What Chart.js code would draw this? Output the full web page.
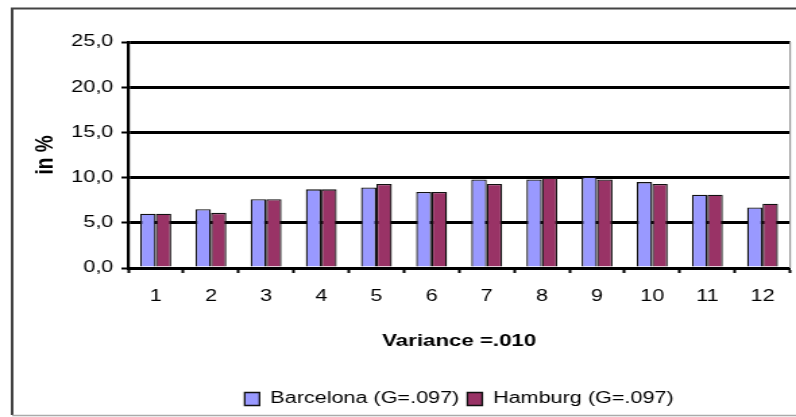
<!DOCTYPE html>
<html>
<head>
<meta charset="utf-8">
<script src="https://cdn.jsdelivr.net/npm/chart.js@4/dist/chart.umd.min.js"></script>
<style>
  html, body { margin: 0; padding: 0; background: #fff; overflow: hidden; }
  /* the chart is laid out narrow and widened, giving its broad lettering */
  #c { display: block; transform: scaleX(1.3492); transform-origin: 0 0; }
</style>
</head>
<body>
<canvas id="c" width="590" height="417"></canvas>
<script>
const categories = ['1', '2', '3', '4', '5', '6', '7', '8', '9', '10', '11', '12'];
const barcelona = [6.0, 6.5, 7.6, 8.7, 8.9, 8.4, 9.8, 9.8, 10.1, 9.5, 8.1, 6.7];
const hamburg   = [6.0, 6.1, 7.6, 8.7, 9.3, 8.4, 9.3, 10.0, 9.8, 9.3, 8.1, 7.1];
const seriesNames = ['Barcelona (G=.097)', 'Hamburg (G=.097)'];
const xTitle = 'Variance =.010';
const yTitle = 'in %';

const FONT = '"Liberation Sans", Arial, sans-serif';

// outer frame and the grey edge on the right of the plot area
const framePlugin = {
  id: 'frame',
  beforeDraw(chart) {
    const ctx = chart.ctx;
    ctx.save();
    ctx.fillStyle = '#fff';
    ctx.fillRect(0, 0, chart.width, chart.height);
    ctx.strokeStyle = '#444';
    ctx.lineWidth = 2;
    ctx.beginPath();
    ctx.moveTo(9, 415);
    ctx.lineTo(9, 8.5);
    ctx.lineTo(chart.width + 2, 8.5);
    ctx.stroke();
    ctx.strokeStyle = '#aaa';
    ctx.lineWidth = 1.5;
    ctx.beginPath();
    ctx.moveTo(9, 415.5);
    ctx.lineTo(chart.width + 2, 415.5);
    ctx.stroke();
    ctx.restore();
  },
  afterDraw(chart) {
    const a = chart.chartArea;
    const ctx = chart.ctx;
    ctx.save();
    ctx.strokeStyle = '#999';
    ctx.lineWidth = 1.2;
    ctx.beginPath();
    ctx.moveTo(a.right, a.top);
    ctx.lineTo(a.right, a.bottom);
    ctx.stroke();
    ctx.restore();
  }
};

new Chart(document.getElementById('c'), {
  type: 'bar',
  data: {
    labels: categories,
    datasets: [
      { label: seriesNames[0], data: barcelona, backgroundColor: '#9999ff', borderColor: '#111', borderWidth: 1.3 },
      { label: seriesNames[1], data: hamburg, backgroundColor: '#993366', borderColor: '#111', borderWidth: 1.3 }
    ]
  },
  options: {
    responsive: false,
    animation: false,
    devicePixelRatio: 1,
    layout: { padding: { left: 18, right: 4.4, top: 42, bottom: 0 } },
    datasets: { bar: { categoryPercentage: 0.56, barPercentage: 1.0 } },
    plugins: {
      tooltip: { enabled: false },
      legend: {
        position: 'bottom',
        fullSize: false,
        labels: {
          boxWidth: 11,
          boxHeight: 13,
          padding: 6,
          color: '#000',
          font: { family: FONT, size: 16 }
        }
      }
    },
    scales: {
      x: {
        afterFit(s) { s.height = 117; },
        grid: {
          offset: true,
          drawOnChartArea: false,
          drawTicks: true,
          tickLength: 5,
          tickColor: '#000',
          tickWidth: 2
        },
        border: { color: '#000', width: 3 },
        ticks: { color: '#000', padding: 14, font: { family: FONT, size: 16 } },
        title: {
          display: true,
          text: xTitle,
          color: '#000',
          font: { family: FONT, size: 16.5, weight: 'bold' },
          padding: { top: 0, bottom: 33.4 }
        }
      },
      y: {
        min: 0,
        max: 25,
        afterFit(s) { s.width = 77; },
        grid: {
          color: '#000',
          lineWidth: 3,
          drawTicks: true,
          tickLength: 5,
          tickColor: '#000',
          tickWidth: 2
        },
        border: { color: '#000', width: 2.2 },
        ticks: {
          stepSize: 5,
          padding: 6,
          color: '#000',
          font: { family: FONT, size: 16 },
          callback: v => v.toFixed(1).replace('.', ',')
        },
        title: {
          display: true,
          text: yTitle,
          color: '#000',
          font: { family: FONT, size: 19, weight: 'bold' },
          padding: { top: 4, bottom: 4 }
        }
      }
    }
  },
  plugins: [framePlugin]
});
</script>
</body>
</html>
